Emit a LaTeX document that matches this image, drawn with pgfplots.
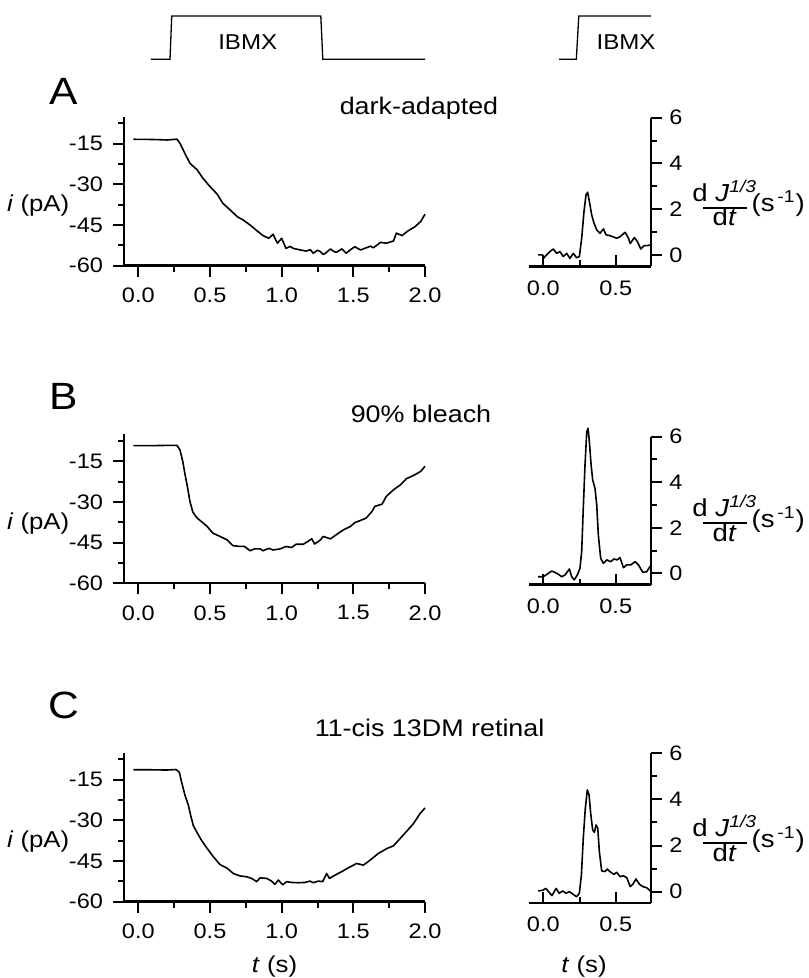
\documentclass[border=0pt]{standalone}
\usepackage{fontspec}
\setmainfont{Liberation Sans}[FakeStretch=1.12]
\usepackage{pgfplots}
\pgfplotsset{compat=1.18}
\newcommand\lab{\fontsize{11.5}{13}\selectfont}
\newcommand\flab{\fontsize{12.3}{14}\selectfont}
\pgfplotsset{
 base/.style={scale only axis, clip=false, anchor=south west,
   axis line style={line width=1.2pt,-},
   tick style={line width=1pt,black}, major tick length=5.5pt, minor tick length=3pt,
   tick label style={font=\fontsize{10.5}{12}\selectfont},
   /pgf/number format/assume math mode=true},
 leftp/.style={base, width=150.5pt, height=74.5pt, xmin=-0.1, xmax=2, ymin=-60, ymax=-5,
   axis x line*=bottom, axis y line*=left, tick align=outside,
   xtick={0,0.5,1,1.5,2}, minor xtick={0.25,0.75,1.25,1.75},
   ytick={-60,-45,-30,-15}, minor ytick={-52.5,-37.5,-22.5,-7.5},
   yticklabel style={xshift=-1.5pt},
   xticklabel style={yshift=-2pt,/pgf/number format/fixed,/pgf/number format/fixed zerofill,/pgf/number format/precision=1}},
 rightp/.style={base, width=61.2pt, xmin=-0.1, xmax=0.745, ymin=-0.5, ymax=6,
   axis x line*=bottom, axis y line*=right, xtick align=inside, ytick align=outside,
   xtick={0,0.5}, minor xtick={0.25}, ytick={0,2,4,6}, minor ytick={1,3,5},
   xticklabel style={yshift=-3.5pt,/pgf/number format/fixed,/pgf/number format/fixed zerofill,/pgf/number format/precision=1}},
 pulse/.style={hide axis, scale only axis, clip=false, anchor=south west, height=21.65pt, ymin=0, ymax=1},
 curve/.style={black, line width=0.8pt, mark=none, line join=round},
}
\newcommand\rlab[1]{%
 \node[anchor=base, font=\flab] at (362.35pt,#1+3.3pt) {d \textit{J}\textsuperscript{\textit{1/3}}};
 \draw[line width=0.9pt] (351.35pt,#1) -- (373.35pt,#1);
 \node[anchor=base, font=\flab] at (362.35pt,#1-9pt) {d\textit{t}};
 \node[anchor=base west, font=\flab, inner sep=0pt] at (375.6pt,#1-2pt) {(s\textsuperscript{\,-1})};
}
\newcommand\llab[1]{\node[anchor=base east, font=\lab, inner sep=0pt] at (34.8pt,#1-1.5pt) {\textit{i} (pA)};}
\newcommand\ttl{\fontsize{12}{14}\selectfont}
\newcommand\panelfont{\fontsize{19}{21}\selectfont}
\begin{document}
\begin{tikzpicture}
\path[use as bounding box] (0,0) rectangle (404pt,489pt);
% IBMX pulses
\begin{axis}[pulse, width=150.5pt, xmin=-0.1, xmax=2, at={(62pt,459.35pt)}]
\addplot[black, line width=0.65pt] coordinates {(0.087,0) (0.221,0) (0.233,1) (1.273,1) (1.287,0) (2.0,0)};
\end{axis}
\begin{axis}[pulse, width=61.2pt, xmin=-0.1, xmax=0.745, at={(264.4pt,459.35pt)}]
\addplot[black, line width=0.65pt] coordinates {(0.11,0) (0.228,0) (0.245,1) (0.745,1)};
\end{axis}
\node[anchor=base, font=\fontsize{10.75}{12}\selectfont] at (123.85pt,464.35pt) {IBMX};
\node[anchor=base, font=\fontsize{10.75}{12}\selectfont] at (313pt,464.35pt) {IBMX};
% ---------------- A
\begin{axis}[leftp, at={(62pt,356.15pt)}]
\addplot[curve] coordinates {(-0.035,-13.3) (0.0,-13.4) (0.08,-13.4) (0.15,-13.5) (0.2,-13.6) (0.27,-13.3) (0.29,-14.8) (0.33,-19.1) (0.36,-22.2) (0.41,-24.6) (0.45,-27.7) (0.5,-30.8) (0.55,-33.6) (0.59,-37) (0.64,-39.4) (0.69,-41.9) (0.73,-43.1) (0.78,-45) (0.83,-47.2) (0.87,-48.9) (0.91,-49.9) (0.94,-48.4) (0.97,-51.7) (1.0,-49.9) (1.03,-53.6) (1.06,-52.9) (1.08,-53.6) (1.13,-54.2) (1.17,-54.6) (1.2,-54.1) (1.22,-55.4) (1.25,-54.3) (1.27,-54.8) (1.29,-55.9) (1.31,-55.2) (1.34,-53.8) (1.36,-54.6) (1.38,-55.1) (1.42,-53.8) (1.45,-55.4) (1.48,-54.1) (1.51,-53) (1.55,-54.2) (1.59,-53.4) (1.62,-52.8) (1.64,-53.4) (1.67,-52.2) (1.69,-51.4) (1.73,-51.7) (1.78,-50.9) (1.8,-48) (1.84,-48.9) (1.88,-47.2) (1.93,-45.6) (1.97,-43.7) (2.0,-41)};
\end{axis}
\begin{axis}[rightp, height=74.35pt, at={(264.4pt,355.8pt)}]
\addplot[curve] coordinates {(-0.035,0) (-0.005,0) (0,-0.15) (0.023,0) (0.046,0.15) (0.069,0.26) (0.092,0.07) (0.115,0.15) (0.138,-0.07) (0.161,0.07) (0.184,-0.15) (0.207,0.07) (0.23,-0.12) (0.249,-0.07) (0.265,0.73) (0.281,1.9) (0.295,2.63) (0.306,2.74) (0.318,2.34) (0.334,1.75) (0.35,1.39) (0.369,1.09) (0.392,0.95) (0.415,1.14) (0.433,0.88) (0.456,0.85) (0.479,0.8) (0.507,0.73) (0.53,0.8) (0.565,0.99) (0.588,0.73) (0.6,0.5) (0.629,0.76) (0.65,0.58) (0.673,0.26) (0.696,0.41) (0.719,0.41) (0.744,0.44)};
\end{axis}
\node[anchor=base, font=\panelfont] at (32pt,436.5pt) {A};
\node[anchor=base, font=\ttl] at (209.5pt,431.5pt) {dark-adapted};
\llab{384.65pt}
\rlab{385.15pt}
% ---------------- B
\begin{axis}[leftp, at={(62pt,197.35pt)}]
\addplot[curve] coordinates {(-0.035,-9.2) (0.08,-9.2) (0.2,-9.1) (0.27,-9.1) (0.29,-10.7) (0.31,-15) (0.326,-19.9) (0.342,-24.2) (0.36,-29.8) (0.38,-33.7) (0.41,-35.9) (0.44,-37.2) (0.48,-39) (0.52,-41.5) (0.57,-42.7) (0.62,-44) (0.66,-46.1) (0.71,-46.4) (0.74,-46.4) (0.78,-48) (0.81,-47.3) (0.85,-47.3) (0.87,-48) (0.91,-47.1) (0.94,-47.7) (0.99,-47.3) (1.03,-46.4) (1.07,-46.8) (1.1,-45.6) (1.15,-45.6) (1.19,-44.3) (1.21,-43.6) (1.23,-45.5) (1.27,-44) (1.29,-42.7) (1.34,-43.6) (1.38,-42.1) (1.43,-40.3) (1.48,-39) (1.51,-37.6) (1.56,-36.6) (1.59,-35.9) (1.63,-33.5) (1.65,-31.6) (1.7,-30.8) (1.73,-27.9) (1.78,-25.5) (1.83,-23.6) (1.87,-21.4) (1.92,-20.2) (1.97,-18.7) (2.0,-16.8)};
\end{axis}
\begin{axis}[rightp, height=74pt, at={(264.4pt,196.65pt)}]
\addplot[curve] coordinates {(-0.035,-0.15) (0,-0.15) (0.035,0) (0.058,0.1) (0.08,0.04) (0.104,-0.04) (0.127,-0.15) (0.15,-0.07) (0.18,0.19) (0.196,-0.15) (0.214,-0.29) (0.235,-0.07) (0.253,0.22) (0.265,0.95) (0.276,2.86) (0.288,4.76) (0.3,6.22) (0.309,6.37) (0.318,5.78) (0.33,4.76) (0.341,4.1) (0.357,3.73) (0.369,3.0) (0.38,1.68) (0.396,0.66) (0.415,0.44) (0.438,0.59) (0.465,0.51) (0.488,0.63) (0.51,0.59) (0.53,0.69) (0.553,0.25) (0.576,0.37) (0.604,0.37) (0.634,0.51) (0.657,0.37) (0.687,0.04) (0.714,0.07) (0.744,0.37)};
\end{axis}
\node[anchor=base, font=\panelfont] at (32pt,284pt) {B};
\node[anchor=base, font=\ttl] at (210.5pt,277.5pt) {90\% bleach};
\llab{225.75pt}
\rlab{227.35pt}
% ---------------- C
\begin{axis}[leftp, at={(62pt,38.15pt)}]
\addplot[curve] coordinates {(-0.035,-11.3) (0.08,-11.3) (0.2,-11.4) (0.263,-11.2) (0.286,-12.2) (0.302,-15.9) (0.326,-20.8) (0.349,-24.4) (0.365,-28.1) (0.384,-32) (0.41,-34.5) (0.44,-37.3) (0.477,-40.1) (0.523,-43.4) (0.57,-46.3) (0.616,-47.5) (0.663,-49.6) (0.71,-50.5) (0.756,-50.8) (0.79,-51.4) (0.826,-52.6) (0.849,-51.2) (0.895,-51.4) (0.93,-52.4) (0.953,-53.6) (0.977,-52) (1.007,-53.8) (1.035,-52.6) (1.07,-52.9) (1.116,-53) (1.163,-52.9) (1.198,-52.4) (1.22,-53) (1.256,-52.4) (1.286,-52.6) (1.314,-49.6) (1.333,-51.4) (1.372,-50.2) (1.419,-48.9) (1.465,-47.5) (1.523,-45.9) (1.57,-46.5) (1.616,-44.7) (1.674,-42.2) (1.733,-40.4) (1.779,-39.4) (1.826,-36.7) (1.872,-34) (1.919,-31.2) (1.965,-27.5) (2.0,-25.4)};
\end{axis}
\begin{axis}[rightp, height=75pt, at={(264.4pt,37.4pt)}]
\addplot[curve] coordinates {(-0.035,0.03) (-0.005,0.06) (0.018,0.14) (0.04,-0.03) (0.06,-0.17) (0.088,0.14) (0.11,-0.07) (0.134,0.03) (0.157,-0.07) (0.18,0) (0.207,-0.12) (0.23,-0.22) (0.249,-0.07) (0.263,0.72) (0.276,2.31) (0.29,3.61) (0.304,4.41) (0.316,4.19) (0.327,3.4) (0.341,2.67) (0.353,2.57) (0.364,2.89) (0.376,2.75) (0.387,1.73) (0.403,0.9) (0.426,0.87) (0.442,0.98) (0.465,0.84) (0.488,0.75) (0.507,0.84) (0.53,0.65) (0.553,0.69) (0.576,0.61) (0.6,0.22) (0.618,0.32) (0.64,0.55) (0.664,0.32) (0.687,0.22) (0.714,0.17) (0.744,0)};
\end{axis}
\node[anchor=base, font=\panelfont] at (32pt,129.5pt) {C};
\node[anchor=base, font=\ttl] at (214.8pt,120.65pt) {11-cis 13DM retinal};
\llab{66.7pt}
\rlab{67.35pt}
\node[anchor=base, font=\lab] at (137.25pt,2.75pt) {\textit{t} (s)};
\node[anchor=base, font=\lab] at (292pt,2.75pt) {\textit{t} (s)};
\end{tikzpicture}
\end{document}
